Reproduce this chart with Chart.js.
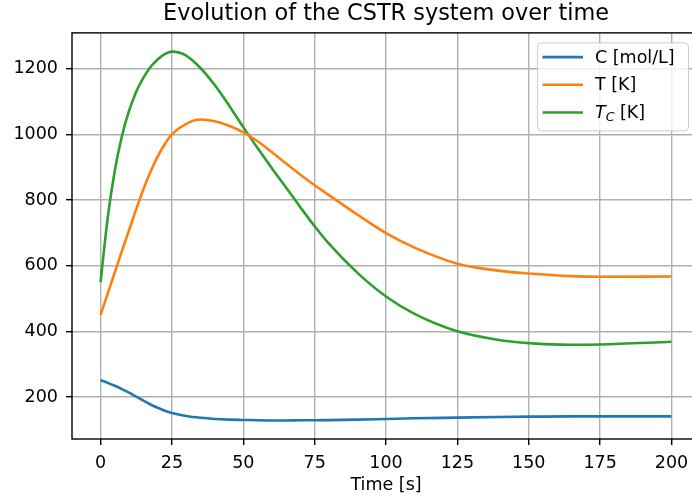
<!DOCTYPE html>
<html>
<head>
<meta charset="utf-8">
<title>CSTR system</title>
<script src="https://cdn.jsdelivr.net/npm/chart.js@4.4.0/dist/chart.umd.min.js"></script>
<style>
    html, body { margin: 0; padding: 0; background: #fff; overflow: hidden; }
    #wrap { width: 700px; height: 501px; }
</style>
</head>
<body>
<div id="wrap"><canvas id="cstrChart" width="700" height="501"></canvas></div>
<script>
// values
const timeValues = [0, 2.5, 5, 7.5, 10, 12.5, 15, 17.5, 20, 22.5, 25, 30, 35, 40, 45, 50, 55, 60, 65, 70, 75, 80, 90, 100, 110, 125, 140, 150, 165, 175, 200];
const concValues = [251, 243, 234, 224, 213, 201, 189, 177, 167, 158, 151, 142, 136.5, 133, 131, 130, 129, 128.5, 128.5, 129, 129, 129.5, 131, 133, 135, 137, 139, 140, 141, 141, 141];
const tempValues = [450, 515, 580, 645, 708, 772, 832, 886, 932, 970, 1000, 1032, 1045, 1040, 1026, 1006, 979, 946, 911, 877, 845, 815, 755, 699, 655, 606, 584, 576, 568, 566, 567];
const coolantValues = [550, 745, 890, 995, 1072, 1130, 1172, 1205, 1228, 1244, 1252, 1240, 1202, 1150, 1088, 1022, 958, 897, 838, 778, 720, 667, 578, 506, 453, 400, 373, 364, 359, 360, 368];

const xTickValues = [0, 25, 50, 75, 100, 125, 150, 175, 200];
const yTickValues = [200, 400, 600, 800, 1000, 1200];

const seriesColors = ['#1f77b4', '#ff7f0e', '#2ca02c'];
// legend labels, split so T_C can get italic + subscript like mathtext
const legendLabels = [
    [{ text: 'C [mol/L]' }],
    [{ text: 'T [K]' }],
    [{ text: 'T', italic: true }, { text: 'C', italic: true, sub: true }, { text: ' [K]' }]
];

const FONT = "'DejaVu Sans', sans-serif";
const FS = 17.5;

function toPoints(ys) {
    return timeValues.map(function (t, i) { return { x: t, y: ys[i] }; });
}

function setTicks(values) {
    return function (axis) {
        axis.ticks = values.map(function (v) { return { value: v }; });
    };
}

const frameAndLegend = {
    id: 'frameAndLegend',
    afterDatasetsDraw(chart) {
        const ctx = chart.ctx;
        const a = chart.chartArea;
        ctx.save();

        // axes frame
        ctx.strokeStyle = '#000';
        ctx.lineWidth = 1.4;
        ctx.strokeRect(a.left, a.top, a.right - a.left, a.bottom - a.top);

        // legend box, upper right
        const x0 = a.right - 162.5;
        const y0 = a.top + 10;
        ctx.beginPath();
        ctx.roundRect(x0, y0, 151, 88, 4);
        ctx.fillStyle = 'rgba(255,255,255,0.8)';
        ctx.fill();
        ctx.strokeStyle = '#cccccc';
        ctx.lineWidth = 1;
        ctx.stroke();

        ctx.textBaseline = 'middle';
        ctx.textAlign = 'left';
        legendLabels.forEach(function (parts, i) {
            const ly = y0 + 14.2 + i * 27.7;
            ctx.strokeStyle = seriesColors[i];
            ctx.lineWidth = 2.6;
            ctx.beginPath();
            ctx.moveTo(x0 + 5, ly);
            ctx.lineTo(x0 + 45.5, ly);
            ctx.stroke();

            let tx = x0 + 57.5;
            ctx.fillStyle = '#000';
            parts.forEach(function (p) {
                const size = p.sub ? FS * 0.72 : FS;
                ctx.font = (p.italic ? 'italic ' : '') + size + 'px ' + FONT;
                ctx.fillText(p.text, tx, ly + 1 + (p.sub ? 4 : 0));
                tx += ctx.measureText(p.text).width;
            });
        });
        ctx.restore();
    }
};

new Chart(document.getElementById('cstrChart'), {
    type: 'line',
    data: {
        datasets: [{
            label: 'C [mol/L]',
            data: toPoints(concValues),
            borderColor: seriesColors[0],
            borderWidth: 2.6,
            pointRadius: 0,
            fill: false,
            cubicInterpolationMode: 'monotone'
        }, {
            label: 'T [K]',
            data: toPoints(tempValues),
            borderColor: seriesColors[1],
            borderWidth: 2.6,
            pointRadius: 0,
            fill: false,
            cubicInterpolationMode: 'monotone'
        }, {
            label: 'T_C [K]',
            data: toPoints(coolantValues),
            borderColor: seriesColors[2],
            borderWidth: 2.6,
            pointRadius: 0,
            fill: false,
            cubicInterpolationMode: 'monotone'
        }]
    },
    options: {
        responsive: false,
        animation: false,
        layout: { padding: 0 },
        plugins: {
            legend: { display: false },
            tooltip: { enabled: false },
            title: {
                display: true,
                fullSize: false,
                text: 'Evolution of the CSTR system over time',
                color: '#000',
                font: { family: FONT, size: 22.4, weight: 'normal', lineHeight: 1.2 },
                padding: { top: 1, bottom: 5 }
            }
        },
        scales: {
            x: {
                type: 'linear',
                min: -10,
                max: 210,
                afterBuildTicks: setTicks(xTickValues),
                afterFit: function (s) { s.height = 62; },
                border: { display: false },
                grid: { color: '#b0b0b0', lineWidth: 1.4, tickColor: '#000', tickWidth: 1.4, tickLength: 6 },
                ticks: {
                    color: '#000',
                    font: { family: FONT, size: FS },
                    padding: 8,
                    maxRotation: 0,
                    autoSkip: false,
                    callback: function (v) { return String(v); }
                },
                title: {
                    display: true,
                    text: 'Time [s]',
                    color: '#000',
                    font: { family: FONT, size: FS },
                    padding: { top: 0, bottom: 5.5 }
                }
            },
            y: {
                type: 'linear',
                min: 72,
                max: 1309,
                afterBuildTicks: setTicks(yTickValues),
                afterFit: function (s) { s.width = 72; },
                border: { display: false },
                grid: { color: '#b0b0b0', lineWidth: 1.4, tickColor: '#000', tickWidth: 1.4, tickLength: 6 },
                ticks: {
                    color: '#000',
                    font: { family: FONT, size: FS },
                    padding: 8,
                    autoSkip: false,
                    callback: function (v) { return String(v); }
                }
            }
        }
    },
    plugins: [frameAndLegend]
});
</script>
</body>
</html>
